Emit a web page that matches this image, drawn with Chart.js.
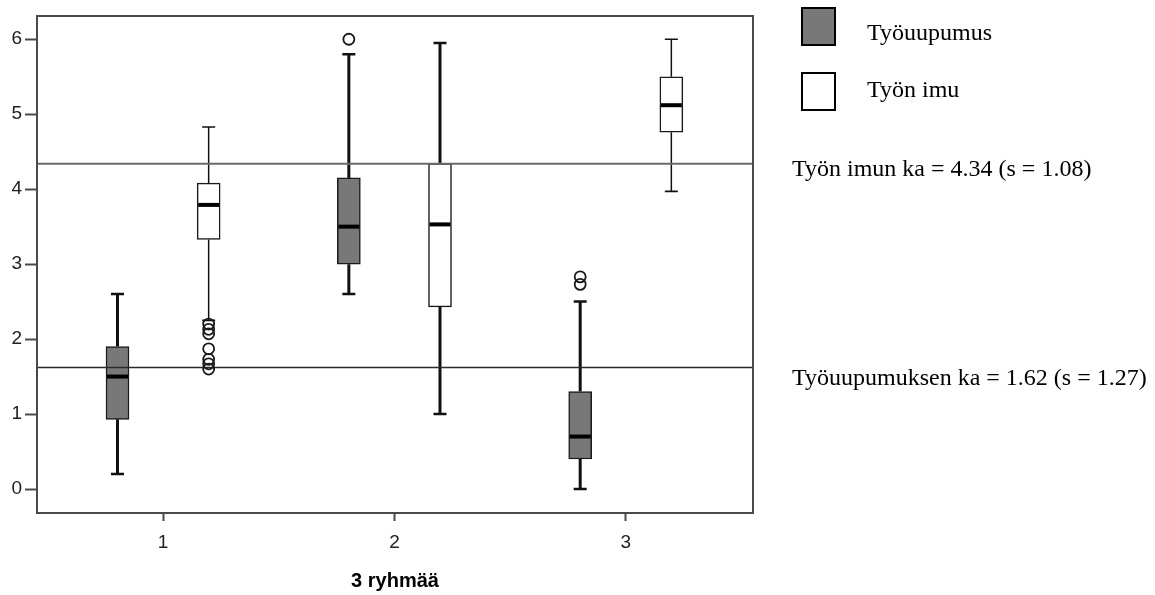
<!DOCTYPE html>
<html>
<head>
<meta charset="utf-8">
<script src="https://cdn.jsdelivr.net/npm/chart.js@4/dist/chart.umd.min.js"></script>
<style>
  html, body { margin: 0; padding: 0; background: #ffffff; }
  #wrap { width: 1155px; height: 595px; }
</style>
</head>
<body>
<div id="wrap"><canvas id="c" width="1155" height="595"></canvas></div>
<script>
// ---------- DATA ----------
const groups = [1, 2, 3];
const xTicks = [1, 2, 3];
const yTicks = [0, 1, 2, 3, 4, 5, 6];
const seriesNames = ['Työuupumus', 'Työn imu'];
const axisTitle = '3 ryhmää';

// Työuupumus (burnout)
const burnoutLow    = [0.20, 2.60, 0.00];
const burnoutQ1     = [0.93, 3.00, 0.40];
const burnoutMedian = [1.50, 3.50, 0.70];
const burnoutQ3     = [1.90, 4.15, 1.30];
const burnoutHigh   = [2.60, 5.80, 2.50];
const burnoutOutliers = [[], [6.00], [2.83, 2.73]];

// Työn imu (engagement)
const engageLow    = [2.25, 1.00, 3.97];
const engageQ1     = [3.33, 2.43, 4.76];
const engageMedian = [3.79, 3.53, 5.12];
const engageQ3     = [4.08, 4.34, 5.50];
const engageHigh   = [4.83, 5.95, 6.00];
const engageOutliers = [[2.20, 2.13, 2.07, 1.87, 1.73, 1.67, 1.60], [], []];

// Overall means and standard deviations
const meanNames = ['Työuupumuksen ka', 'Työn imun ka'];
const meanValues = [1.62, 4.34];
const sdValues = [1.27, 1.08];

// ---------- LAYOUT / STYLE ----------
const X_MIN = 0.455, X_MAX = 3.55, Y_MIN = -0.32, Y_MAX = 6.31;
const OFFSET = 0.197;
const BOX_W = 23;
const CAP_W = 13;
const DARK = '#787878';
const INK = '#1a1a1a';
const SANS = '"Liberation Sans", Arial, sans-serif';

const series = [
  { name: seriesNames[0], pos: g => g - OFFSET, low: burnoutLow, q1: burnoutQ1, med: burnoutMedian, q3: burnoutQ3, high: burnoutHigh, out: burnoutOutliers, fill: DARK, whiskerW: [3, 3, 3] },
  { name: seriesNames[1], pos: g => g + OFFSET, low: engageLow, q1: engageQ1, med: engageMedian, q3: engageQ3, high: engageHigh, out: engageOutliers, fill: '#ffffff', whiskerW: [1.5, 3, 1.5] }
];

const boxDatasets = series.map(s => ({
  type: 'bar',
  label: s.name,
  data: groups.map((g, i) => ({ x: s.pos(g), y: [s.q1[i], s.q3[i]] })),
  backgroundColor: s.fill,
  borderColor: INK,
  borderWidth: 1.5,
  borderSkipped: false,
  barThickness: BOX_W,
  grouped: false,
  order: 3
}));

const outlierDatasets = series.map(s => ({
  type: 'scatter',
  label: s.name + ' outliers',
  data: groups.flatMap((g, i) => s.out[i].map(v => ({ x: s.pos(g), y: v }))),
  pointRadius: 5.5,
  pointBorderWidth: 1.8,
  pointBorderColor: INK,
  pointBackgroundColor: 'rgba(255,255,255,0)',
  order: 1
}));

const meanDatasets = meanValues.map((m, k) => ({
  type: 'line',
  label: meanNames[k],
  data: [{ x: X_MIN, y: m }, { x: X_MAX, y: m }],
  borderColor: k === 1 ? '#6a6a6a' : '#2a2a2a',
  borderWidth: k === 1 ? 2 : 1.5,
  pointRadius: 0,
  order: 2
}));

const boxPlugin = {
  id: 'boxParts',
  beforeDatasetsDraw(chart) {
    const { ctx } = chart;
    const xs = chart.scales.x, ys = chart.scales.y;
    ctx.save();
    ctx.strokeStyle = '#111';
    series.forEach(s => {
      groups.forEach((g, i) => {
        const px = xs.getPixelForValue(s.pos(g));
        ctx.lineWidth = s.whiskerW[i];
        ctx.beginPath();
        ctx.moveTo(px, ys.getPixelForValue(s.low[i]));
        ctx.lineTo(px, ys.getPixelForValue(s.q1[i]));
        ctx.moveTo(px, ys.getPixelForValue(s.q3[i]));
        ctx.lineTo(px, ys.getPixelForValue(s.high[i]));
        ctx.stroke();
        ctx.lineWidth = s.whiskerW[i] > 2 ? 2.5 : 1.6;
        ctx.beginPath();
        [s.low[i], s.high[i]].forEach(v => {
          const py = ys.getPixelForValue(v);
          ctx.moveTo(px - CAP_W / 2, py);
          ctx.lineTo(px + CAP_W / 2, py);
        });
        ctx.stroke();
      });
    });
    ctx.restore();
  },
  afterDatasetsDraw(chart) {
    const { ctx, chartArea } = chart;
    const xs = chart.scales.x, ys = chart.scales.y;
    ctx.save();
    ctx.strokeStyle = '#000';
    ctx.lineWidth = 4;
    series.forEach(s => {
      groups.forEach((g, i) => {
        const px = xs.getPixelForValue(s.pos(g));
        const py = ys.getPixelForValue(s.med[i]);
        ctx.beginPath();
        ctx.moveTo(px - BOX_W / 2 + 1, py);
        ctx.lineTo(px + BOX_W / 2 - 1, py);
        ctx.stroke();
      });
    });
    // plot frame
    ctx.strokeStyle = '#4a4a4a';
    ctx.lineWidth = 2;
    ctx.strokeRect(chartArea.left, chartArea.top, chartArea.right - chartArea.left, chartArea.bottom - chartArea.top);
    ctx.restore();
  },
  afterDraw(chart) {
    const { ctx } = chart;
    ctx.save();
    // legend
    const sq = [{ y: 8, fill: DARK }, { y: 73, fill: '#ffffff' }];
    sq.forEach(q => {
      ctx.fillStyle = q.fill;
      ctx.fillRect(802, q.y, 33, 37);
      ctx.strokeStyle = '#000';
      ctx.lineWidth = 2;
      ctx.strokeRect(802, q.y, 33, 37);
    });
    ctx.fillStyle = '#000';
    ctx.font = '24px "Liberation Serif", "Times New Roman", serif';
    ctx.textBaseline = 'alphabetic';
    ctx.textAlign = 'left';
    ctx.fillText(seriesNames[0], 867, 40);
    ctx.fillText(seriesNames[1], 867, 97);
    ctx.fillText(meanNames[1] + ' = ' + meanValues[1].toFixed(2) + ' (s = ' + sdValues[1].toFixed(2) + ')', 792, 176);
    ctx.fillText(meanNames[0] + ' = ' + meanValues[0].toFixed(2) + ' (s = ' + sdValues[0].toFixed(2) + ')', 792, 385);
    ctx.restore();
  }
};

new Chart(document.getElementById('c'), {
  type: 'scatter',
  data: { datasets: [...meanDatasets, ...outlierDatasets, ...boxDatasets] },
  options: {
    responsive: false,
    animation: false,
    events: [],
    layout: { padding: { top: 16, right: 402, left: 0, bottom: 0 } },
    plugins: { legend: { display: false }, tooltip: { enabled: false } },
    scales: {
      x: {
        type: 'linear',
        min: X_MIN, max: X_MAX,
        offset: false,
        afterBuildTicks: sc => { sc.ticks = xTicks.map(v => ({ value: v })); },
        afterFit: sc => { sc.height = 82; },
        border: { display: false },
        grid: { offset: false, drawOnChartArea: false, drawTicks: true, tickLength: 8, tickWidth: 2, tickColor: '#4a4a4a' },
        ticks: { color: '#222', padding: 10, font: { family: SANS, size: 19 }, callback: v => String(v) },
        title: { display: true, text: axisTitle, color: '#000', padding: { top: 0, bottom: 2 }, font: { family: SANS, size: 20, weight: 'bold' } }
      },
      y: {
        type: 'linear',
        min: Y_MIN, max: Y_MAX,
        afterBuildTicks: sc => { sc.ticks = yTicks.map(v => ({ value: v })); },
        afterFit: sc => { sc.width = 37; },
        border: { display: false },
        grid: { offset: false, drawOnChartArea: false, drawTicks: true, tickLength: 12, tickWidth: 2, tickColor: '#4a4a4a' },
        ticks: { color: '#222', padding: 3, font: { family: SANS, size: 19 }, callback: v => String(v) }
      }
    }
  },
  plugins: [boxPlugin]
});
</script>
</body>
</html>
